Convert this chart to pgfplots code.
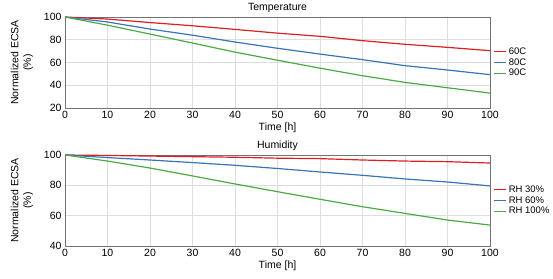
\documentclass[border=0pt]{standalone}
\usepackage{pgfplots}
\pgfplotsset{compat=1.18}
\usepackage{fontspec}
\setmainfont{Liberation Sans}
\definecolor{cred}{RGB}{220,30,38}
\definecolor{cblue}{RGB}{56,116,184}
\definecolor{cgreen}{RGB}{76,170,70}
\pgfplotsset{
  myaxis/.style={
    scale only axis, width=425pt, height=91pt,
    xmin=0, xmax=100, xtick={0,10,...,100},
    grid=major, major grid style={draw=black!13, line width=0.6pt},
    axis line style={draw=black!55, line width=0.6pt},
    major tick length=0pt,
    tick label style={font=\fontsize{10.5}{11}\selectfont},
    /pgf/number format/assume math mode=true,
    xlabel={Time [h]},
    xlabel style={font=\fontsize{10.5}{11}\selectfont, yshift=3pt},
    ylabel={Normalized ECSA\\(\%)},
    ylabel style={font=\fontsize{10.5}{12.5}\selectfont, align=center, yshift=4pt},
    title style={font=\fontsize{10.5}{11}\selectfont, yshift=-5pt},
    legend style={draw=none, fill=none, at={(1.005,0.5)}, anchor=west,
      font=\fontsize{9.5}{10}\selectfont, row sep=-1.2pt, inner xsep=1pt, inner ysep=0pt},
    legend cell align=left,
    legend image code/.code={\draw[#1, line width=1.5pt] (0pt,0pt) -- (12pt,0pt);},
    every axis plot/.append style={line width=1.2pt},
  }
}
\begin{document}
\begin{tikzpicture}[x=1pt,y=1pt]
\path[use as bounding box] (0,0) rectangle (553,278);
\begin{axis}[myaxis, at={(65pt,170pt)}, anchor=south west,
  ymin=20, ymax=100, ytick={20,40,...,100}, title={Temperature}]
\addplot[cred] coordinates {(0,100) (10,98.2) (20,95.1) (30,92.3) (40,89.1) (50,85.8) (60,83) (70,79.2) (80,76) (90,73.3) (100,70.4)};
\addplot[cblue] coordinates {(0,100) (10,95.6) (20,89.4) (30,84) (40,78) (50,72.5) (60,67.4) (70,62.5) (80,57.2) (90,53.4) (100,49.3)};
\addplot[cgreen] coordinates {(0,100) (10,92.8) (20,85) (30,77.1) (40,69.1) (50,62) (60,55) (70,48.4) (80,42.5) (90,37.8) (100,33.1)};
\legend{60C,80C,90C}
\end{axis}
\begin{axis}[myaxis, at={(65pt,32pt)}, anchor=south west,
  ymin=40, ymax=100, ytick={40,60,...,100}, title={Humidity}]
\addplot[cred] coordinates {(0,100) (10,99.7) (20,99.3) (30,98.9) (40,98.5) (50,97.9) (60,97.6) (70,96.7) (80,96) (90,95.6) (100,94.7)};
\addplot[cblue] coordinates {(0,100) (10,98.3) (20,96.7) (30,95) (40,93.2) (50,91.1) (60,88.8) (70,86.6) (80,84.2) (90,82.2) (100,79.6)};
\addplot[cgreen] coordinates {(0,100) (10,96) (20,91.4) (30,86.2) (40,80.9) (50,75.8) (60,70.8) (70,65.9) (80,61.5) (90,57.1) (100,53.8)};
\legend{RH 30\%,RH 60\%,RH 100\%}
\end{axis}
\end{tikzpicture}
\end{document}
